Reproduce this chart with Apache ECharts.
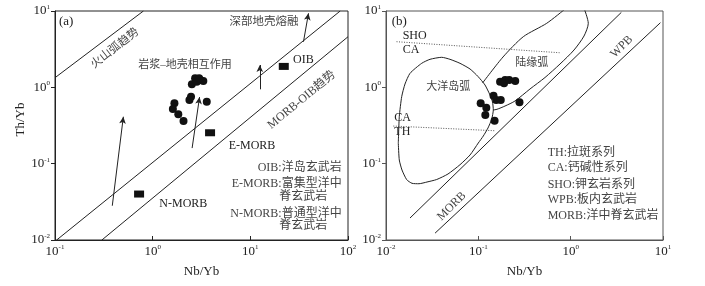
<!DOCTYPE html>
<html><head><meta charset="utf-8">
<script src="https://cdn.jsdelivr.net/npm/echarts@6/dist/echarts.min.js"></script>
<style>html,body{margin:0;padding:0;background:#fff}#c{width:705px;height:286px}</style>
</head><body><div id="c"></div>
<script>
// ---------- Panel (a) data: Th/Yb vs Nb/Yb ----------
const aSamples = [[2.72,1.32],[3.06,1.25],[3.30,1.21],[2.52,1.10],[2.83,1.18],[2.99,1.32],[2.47,0.753],[2.38,0.682],[3.58,0.648],[1.67,0.617],[1.61,0.520],[1.83,0.443],[2.07,0.361]];
const aOIB = [[22.0,1.88]];
const aEMORB = [[3.87,0.254]];
const aNMORB = [[0.726,0.040]];
const aArcTrend = [[0.1,1.337],[0.804,10]];
const aArrayUpper = [[0.104,0.01],[83.2,10]];
const aArrayLower = [[0.302,0.01],[100,4.60]];
const aArrows = [
  [[0.386,0.0281],[0.501,0.412]],
  [[2.535,0.160],[3.02,0.746]],
  [[12.5,0.942],[12.5,1.96]],
  [[35.0,3.96],[39.4,9.33]]
];
// ---------- Panel (b) data ----------
const bSamples = [[0.195,1.25],[0.172,1.18],[0.251,1.21],[0.19,1.13],[0.216,1.25],[0.146,0.776],[0.156,0.682],[0.175,0.682],[0.279,0.636],[0.106,0.617],[0.122,0.541],[0.119,0.434],[0.150,0.365]];
const bArrayUpper = [[0.0182,0.0194],[3.54,9.6]];
const bArrayLower = [[0.034,0.0123],[9.38,7.03]];
const bSHOCA = [[0.0130,3.96],[0.758,2.84]];
const bCATH = [[0.012,0.311],[0.152,0.27]];
const bOceanArc = [[0.01359,0.185],[0.01393,0.1117],[0.01490,0.0826],[0.01676,0.0617],[0.01913,0.0553],[0.02277,0.0546],[0.0278,0.0575],[0.0354,0.0620],[0.0469,0.0732],[0.0633,0.0969],[0.0813,0.1299],[0.0999,0.1865],[0.1132,0.2304],[0.1272,0.2932],[0.1396,0.3846],[0.1453,0.5047],[0.1424,0.6424],[0.1338,0.7932],[0.1181,1.073],[0.0992,1.387],[0.0813,1.739],[0.0633,2.064],[0.0493,2.329],[0.0401,2.474],[0.02997,2.329],[0.02436,2.064],[0.0182,1.527],[0.01606,1.105],[0.01479,0.754],[0.01393,0.4123],[0.01359,0.185]];
const bContArcLeft = [[0.1110,1.139],[0.1850,2.497],[0.3069,4.606],[0.5501,6.90],[0.8683,10.6]];
const bContArcRight = [[1.395,10.9],[1.552,6.90],[1.395,4.704],[1.087,3.083],[0.7666,2.021],[0.5273,1.345],[0.3627,0.951],[0.2495,0.6623],[0.1945,0.569],[0.1593,0.5156],[0.1453,0.5047]];
// tick exponents
const aXExp = [-1,0,1,2];
const bXExp = [-2,-1,0,1];
const yExp = [-2,-1,0,1];

const SERIF = "'Liberation Serif','Noto Sans CJK SC',serif";
const ink = '#222';
const cn = '#444';
const chart = echarts.init(document.getElementById('c'), null, {renderer:'canvas'});

function expLabel(v){ const e = Math.round(Math.log10(v)); return '{b|10}{s|' + e + '}'; }
const rich = {
  b:{fontSize:13,fontFamily:SERIF,color:ink,lineHeight:15},
  s:{fontSize:7,fontFamily:SERIF,color:ink,lineHeight:8,verticalAlign:'top'}
};
function xAx(grid, min, max, name){
  return {type:'log',logBase:10,gridIndex:grid,min:min,max:max,
    name:name,nameLocation:'middle',nameGap:25,
    nameTextStyle:{fontFamily:SERIF,fontSize:13,color:ink},
    axisLine:{lineStyle:{color:grid?'#555':ink}},
    axisTick:{inside:true,length:4,lineStyle:{color:grid?'#555':ink}},
    splitLine:{show:false},minorTick:{show:false},
    axisLabel:{formatter:expLabel,rich:rich,margin:4}};
}
function yAx(grid, name){
  return {type:'log',logBase:10,gridIndex:grid,min:0.01,max:10,
    name:name,nameLocation:'middle',nameGap:27,nameRotate:90,
    nameTextStyle:{fontFamily:SERIF,fontSize:13,color:ink,padding:[0,0,0,12]},
    axisLine:{lineStyle:{color:grid?'#555':ink}},
    axisTick:{inside:false,length:4,lineStyle:{color:grid?'#555':ink}},
    splitLine:{show:false},minorTick:{show:false},
    axisLabel:{formatter:expLabel,rich:rich,margin:5}};
}
function lineS(g, data, opts){
  return Object.assign({type:'line',xAxisIndex:g,yAxisIndex:g,data:data,symbol:'none',
    lineStyle:{color:ink,width:1},silent:true,z:2}, opts||{});
}
function txt(x,y,text,o){
  o = o||{};
  return {type:'text',x:x,y:y,rotation:(o.rot||0)*Math.PI/180,silent:true,
    style:{text:text,font:(o.size||12)+'px '+SERIF,fill:o.color||cn,
      align:o.align||'center',verticalAlign:'middle'}};
}

const option = {
  animation:false,
  backgroundColor:'#fff',
  grid:[
    {left:55,top:11,width:293,height:229,show:true,borderColor:ink,borderWidth:1},
    {left:386,top:11,width:277,height:229,show:true,borderColor:'#555',borderWidth:1}
  ],
  xAxis:[xAx(0,0.1,100,'Nb/Yb'), xAx(1,0.01,10,'Nb/Yb')],
  yAxis:[yAx(0,'Th/Yb'), yAx(1,'')],
  series:[
    lineS(0,aArcTrend),
    lineS(0,aArrayUpper,{markLine:{silent:true,symbol:['none','arrow'],symbolSize:[5,7],
      lineStyle:{color:ink,width:1,type:'solid'},label:{show:false},
      data:aArrows.map(a=>[{coord:a[0]},{coord:a[1]}])}}),
    lineS(0,aArrayLower),
    {type:'scatter',xAxisIndex:0,yAxisIndex:0,data:aSamples,symbol:'circle',symbolSize:8,
      itemStyle:{color:'#111',opacity:1},z:3},
    {type:'scatter',xAxisIndex:0,yAxisIndex:0,data:aOIB.concat(aEMORB,aNMORB),symbol:'rect',symbolSize:[10,7],
      itemStyle:{color:'#111',opacity:1},z:3},
    lineS(1,bArrayUpper),
    lineS(1,bArrayLower),
    lineS(1,bSHOCA,{lineStyle:{color:'#555',width:1,type:[1,1.5]}}),
    lineS(1,bCATH,{lineStyle:{color:'#555',width:1,type:[1,1.5]}}),
    lineS(1,bOceanArc,{smooth:0.2}),
    lineS(1,bContArcLeft,{smooth:0.25}),
    lineS(1,bContArcRight,{smooth:0.25}),
    {type:'scatter',xAxisIndex:1,yAxisIndex:1,data:bSamples,symbol:'circle',symbolSize:8,
      itemStyle:{color:'#111',opacity:1},z:3}
  ],
  graphic:[
    txt(59,21.7,'(a)',{align:'left',size:13,color:ink}),
    txt(264,21.7,'深部地壳熔融',{size:11.5}),
    txt(115,48.3,'火山弧趋势',{rot:38,size:11.5}),
    txt(185,65,'岩浆–地壳相互作用',{size:11}),
    txt(293,60,'OIB',{align:'left',color:ink}),
    txt(301.7,100,'MORB-OIB趋势',{rot:39.5}),
    txt(228.7,146,'E-MORB',{align:'left',color:ink}),
    txt(159.3,204,'N-MORB',{align:'left',color:ink}),
    txt(341.7,168,'OIB:洋岛玄武岩',{align:'right'}),
    txt(341.7,183.7,'E-MORB:富集型洋中',{align:'right'}),
    txt(279.3,197,'脊玄武岩',{align:'left'}),
    txt(341.7,213.7,'N-MORB:普通型洋中',{align:'right'}),
    txt(279.3,226.3,'脊玄武岩',{align:'left'}),
    txt(391.7,21.7,'(b)',{align:'left',size:13,color:ink}),
    txt(402.7,36,'SHO',{align:'left',color:ink}),
    txt(402.7,50,'CA',{align:'left',color:ink}),
    txt(394.3,118.3,'CA',{align:'left',color:ink}),
    txt(394.3,132.3,'TH',{align:'left',color:ink}),
    txt(531.7,63.3,'陆缘弧',{size:11}),
    txt(448.3,86.7,'大洋岛弧',{size:11}),
    txt(621.7,46.7,'WPB',{rot:45}),
    txt(451.7,206.3,'MORB',{rot:45}),
    txt(547.7,153,'TH:拉斑系列',{align:'left'}),
    txt(547.7,168,'CA:钙碱性系列',{align:'left'}),
    txt(547.7,184.7,'SHO:钾玄岩系列',{align:'left'}),
    txt(547.7,200.3,'WPB:板内玄武岩',{align:'left'}),
    txt(547.7,215.7,'MORB:洋中脊玄武岩',{align:'left'})
  ]
};
chart.setOption(option);
</script></body></html>
